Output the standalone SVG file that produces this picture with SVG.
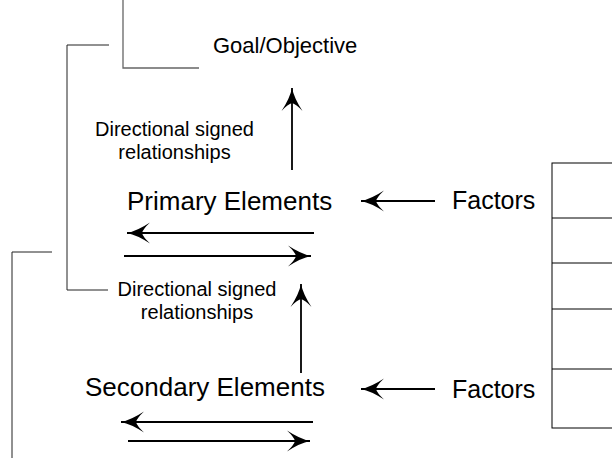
<svg xmlns="http://www.w3.org/2000/svg" width="612" height="458" viewBox="0 0 612 458">
  <style>
    .lbl { font-family: "Liberation Sans", Arial, sans-serif; fill: #000; }
    .big { font-size: 26px; }
    .goal { font-size: 22px; }
    .small { font-size: 20px; text-anchor: middle; }
    .fac { font-size: 25px; }
    .arrow { stroke: #000; stroke-width: 1.8; fill: none; }
    .bracket { stroke: #222; stroke-width: 1; fill: none; }
    .bracket-gray { stroke: #666; stroke-width: 1.3; fill: none; }
    .table { stroke: #000; stroke-width: 1; fill: #fff; }
  </style>
  <defs>
    <marker id="head" viewBox="-25 -12 27 24" refX="0" refY="0" markerWidth="27" markerHeight="24" markerUnits="userSpaceOnUse" orient="auto">
      <path d="M0,0 Q-10,-2 -23,-10.5 Q-16,-4 -15,0 Q-16,4 -23,10.5 Q-10,2 0,0 Z" fill="#000"/>
    </marker>
  </defs>

  <rect width="612" height="458" fill="#fff"/>

  <g id="goal">
    <path class="bracket-gray" d="M123,0 V68 H199"/>
    <text class="lbl goal" x="213" y="53">Goal/Objective</text>
  </g>

  <g id="rel-upper">
    <text class="lbl small" x="174.5" y="136">Directional signed</text>
    <text class="lbl small" x="174.5" y="159">relationships</text>
  </g>

  <g id="primary">
    <text class="lbl big" x="127" y="210">Primary Elements</text>
  </g>

  <g id="rel-lower">
    <text class="lbl small" x="197" y="296">Directional signed</text>
    <text class="lbl small" x="197" y="319">relationships</text>
  </g>

  <g id="secondary">
    <text class="lbl big" x="85" y="396">Secondary Elements</text>
  </g>

  <g id="factors-primary">
    <text class="lbl fac" x="452" y="209">Factors</text>
  </g>

  <g id="factors-secondary">
    <text class="lbl fac" x="452" y="398">Factors</text>
  </g>

  <g id="factor-table">
    <rect class="table" x="552" y="163" width="70" height="265"/>
    <path class="table" d="M552,218 H622 M552,263 H622 M552,309 H622 M552,369 H622"/>
  </g>

  <g id="connectors">
    <!-- outline brackets -->
    <path class="bracket" d="M109,45 H67 V290 H108"/>
    <path class="bracket" d="M52,252 H12 V458"/>
    <!-- upward influence arrows -->
    <line class="arrow" x1="292" y1="170" x2="292" y2="88" marker-end="url(#head)"/>
    <line class="arrow" x1="301" y1="373" x2="301" y2="284" marker-end="url(#head)"/>
    <!-- feedback pairs -->
    <line class="arrow" x1="314" y1="233" x2="127" y2="233" marker-end="url(#head)"/>
    <line class="arrow" x1="124" y1="256" x2="311" y2="256" marker-end="url(#head)"/>
    <line class="arrow" x1="313" y1="422" x2="121" y2="422" marker-end="url(#head)"/>
    <line class="arrow" x1="128" y1="441" x2="310" y2="441" marker-end="url(#head)"/>
    <!-- factor inputs -->
    <line class="arrow" x1="435" y1="201" x2="361" y2="201" marker-end="url(#head)"/>
    <line class="arrow" x1="435" y1="389" x2="361" y2="389" marker-end="url(#head)"/>
  </g>
</svg>
